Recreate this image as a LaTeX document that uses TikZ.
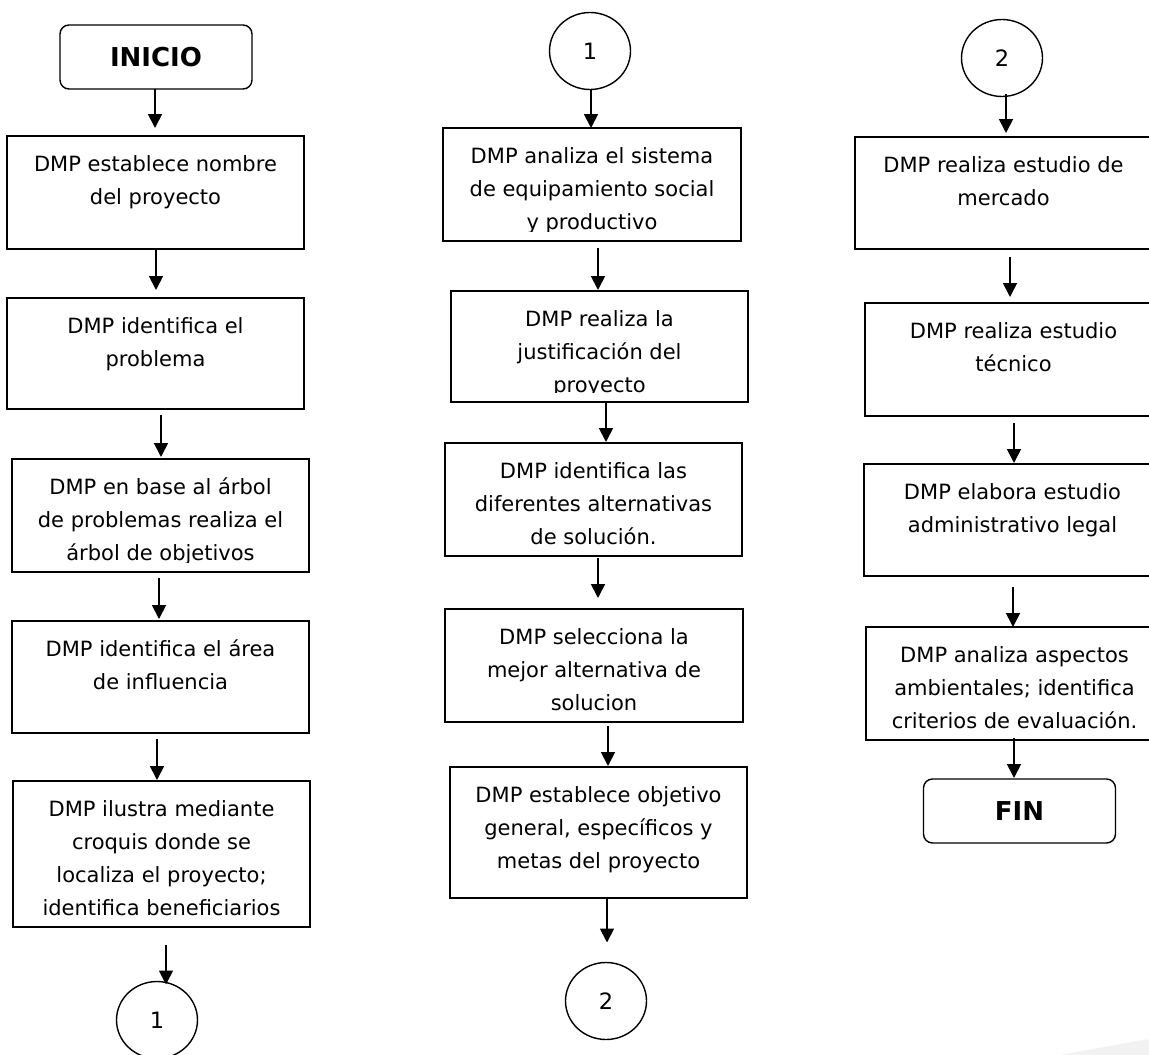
\documentclass[tikz,border=0pt]{standalone}
\usepackage{fontspec}
\setmainfont{DejaVu Sans}
\usetikzlibrary{arrows.meta,shapes.geometric,calc}

\newcommand\flowtextfont{\fontsize{21pt}{33pt}\selectfont}
\newcommand\digitfont{\fontsize{22.5pt}{26pt}\selectfont}
\newcommand\titlefont{\fontsize{26pt}{30pt}\selectfont\bfseries}

\tikzset{
  procbox/.style={draw, line width=1.4pt, rectangle, inner sep=0pt, outer sep=0pt},
  proctext/.style={align=center, inner sep=0pt, outer sep=0pt, font=\flowtextfont, anchor=north},
  terminal/.style={draw, line width=1.4pt, rounded corners=9pt, minimum width=192pt,
    minimum height=64pt, inner sep=0pt, outer sep=0pt, font=\titlefont},
  connector/.style={draw, line width=1.4pt, ellipse, minimum width=81pt, minimum height=77pt,
    inner sep=0pt, outer sep=0pt, font=\digitfont},
  flow/.style={line width=1.8pt, -{Triangle[width=14pt,length=14pt]}},
}

% process box: name, left, top, right, bottom, text (text clipped by the box margin)
\newcommand\procstep[6]{%
  \node[procbox, minimum width={#4-#2}, minimum height={#5-#3}] (#1) at ({(#2+#4)/2},{(#3+#5)/2}) {};
  \begin{scope}
    \clip (#2,#3) rectangle (#4,{#5-10});
    \node[proctext] (#1-t) at ({(#2+#4)/2},{#3+17}) {\rule{0pt}{18pt}#6};
  \end{scope}}

\begin{document}
\begin{tikzpicture}[x=1pt,y=-1pt]
  \useasboundingbox (0,0) rectangle (1149,1055);
  \clip (0,0) rectangle (1149,1055);
  \fill[white] (0,0) rectangle (1149,1055);
  \fill[black!5] (1060,1055) -- (1149,1039) -- (1149,1055) -- cycle;

  % ---- first column ----
  \node[terminal] (inicio) at (156,57) {INICIO};
  \procstep{c1a}{7}{136}{304}{249}{DMP establece nombre\\del proyecto}
  \procstep{c1b}{7}{298}{304}{409}{DMP identifica el\\problema}
  \procstep{c1c}{12}{459}{309}{572}{DMP en base al árbol\\de problemas realiza el\\árbol de objetivos}
  \procstep{c1d}{12}{621}{309}{733}{DMP identifica el área\\de influencia}
  \procstep{c1e}{13}{781}{310}{927}{DMP ilustra mediante\\croquis donde se\\localiza el proyecto;\\identifica beneficiarios}
  \node[connector] (out1) at (157,1020) {1};

  \draw[flow] ([xshift=-1pt]inicio.south) -- ([xshift=-0.5pt,yshift=8pt]c1a.north);
  \draw[flow] ([xshift=0.5pt]c1a.south) -- ([xshift=0.5pt,yshift=8pt]c1b.north);
  \draw[flow] ([xshift=5.5pt,yshift=-6pt]c1b.south) -- ([xshift=0.5pt,yshift=2pt]c1c.north);
  \draw[flow] ([xshift=-1.5pt,yshift=-6pt]c1c.south) -- ([xshift=-1.5pt,yshift=2pt]c1d.north);
  \draw[flow] ([xshift=-3.5pt,yshift=-6pt]c1d.south) -- ([xshift=-4.5pt,yshift=1pt]c1e.north);
  \draw[flow] ([xshift=4.5pt,yshift=-18pt]c1e.south) -- ([xshift=9pt,yshift=-3pt]out1.north);

  % ---- second column ----
  \node[connector] (in1) at (590,51) {1};
  \procstep{c2a}{443}{128}{741}{241}{DMP analiza el sistema\\de equipamiento social\\y productivo}
  \procstep{c2b}{451}{291}{748}{402}{DMP realiza la\\justificación del\\proyecto}
  \procstep{c2c}{445}{443}{742}{556}{DMP identifica las\\diferentes alternativas\\de solución.}
  \procstep{c2d}{445}{609}{743}{722}{DMP selecciona la\\mejor alternativa de\\solucion}
  \procstep{c2e}{450}{767}{747}{898}{DMP establece objetivo\\general, específicos y\\metas del proyecto}
  \node[connector] (out2) at (606,1001) {2};

  \draw[flow] ([xshift=1pt,yshift=1pt]in1.south) -- ([xshift=-1pt]c2a.north);
  \draw[flow] ([xshift=6pt,yshift=-7pt]c2a.south) -- ([xshift=-1.5pt,yshift=1pt]c2b.north);
  \draw[flow] ([xshift=6.5pt]c2b.south) -- ([xshift=12.5pt,yshift=1pt]c2c.north);
  \draw[flow] ([xshift=4.5pt,yshift=-2pt]c2c.south) -- ([xshift=4pt,yshift=11pt]c2d.north);
  \draw[flow] ([xshift=14pt,yshift=-4pt]c2d.south) -- ([xshift=9.5pt,yshift=1pt]c2e.north);
  \draw[flow] ([xshift=8.5pt]c2e.south) -- ([xshift=1pt,yshift=20pt]out2.north);

  % ---- third column ----
  \node[connector] (in2) at (1002,58) {2};
  \procstep{c3a}{855}{137}{1152}{249}{DMP realiza estudio de\\mercado}
  \procstep{c3b}{865}{303}{1162}{416}{DMP realiza estudio\\técnico}
  \procstep{c3c}{864}{464}{1161}{576}{DMP elabora estudio\\administrativo legal}
  \procstep{c3d}{866}{627}{1163}{740}{DMP analiza aspectos\\ambientales; identifica\\criterios de evaluación.}
  \node[terminal] (fin) at (1019.5,811) {FIN};

  \draw[flow] ([xshift=4pt,yshift=3pt]in2.south) -- ([xshift=2.5pt,yshift=4pt]c3a.north);
  \draw[flow] ([xshift=6.5pt,yshift=-8pt]c3a.south) -- ([xshift=-3.5pt,yshift=6pt]c3b.north);
  \draw[flow] ([xshift=0.5pt,yshift=-7pt]c3b.south) -- ([xshift=1.5pt,yshift=1pt]c3c.north);
  \draw[flow] ([xshift=0.5pt,yshift=-11pt]c3c.south) -- ([xshift=-1.5pt]c3d.north);
  \draw[flow] ([xshift=-0.5pt,yshift=2pt]c3d.south) -- ([xshift=-5.5pt,yshift=1pt]fin.north);
\end{tikzpicture}
\end{document}
